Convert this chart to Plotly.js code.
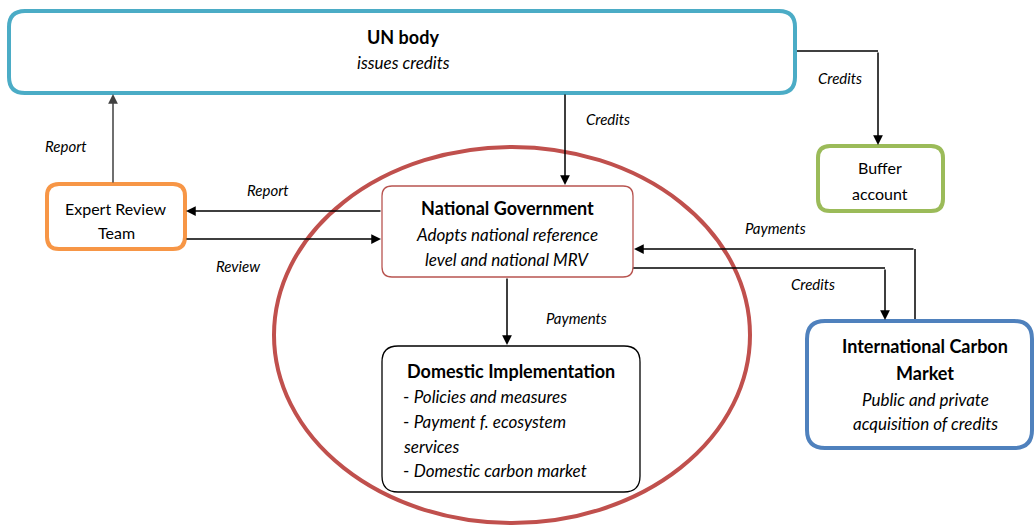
<!DOCTYPE html>
<html><head><meta charset="utf-8">
<script src="https://cdn.plot.ly/plotly-3.0.1.min.js"></script>
<style>html,body{margin:0;padding:0;background:#fff}#chart{width:1034px;height:525px}</style>
</head><body><div id="chart"></div>
<script>
// Node texts
const nodeIds = ["un", "buffer", "expert", "natgov", "domestic", "intl"];
const nodeTitles = ["UN body", "", "", "National Government", "Domestic Implementation", "International Carbon|Market"];
const nodePlain = ["", "Buffer|account", "Expert Review|Team", "", "", ""];
const nodeSubtitles = ["issues credits", "", "", "Adopts national reference|level and national MRV", "", "Public and private|acquisition of credits"];
const domesticItems = ["- Policies and measures", "- Payment f. ecosystem", "services", "- Domestic carbon market"];
// Flow labels
const flowLabels = ["Report", "Report", "Review", "Credits", "Credits", "Payments", "Payments", "Credits"];

// ---- geometry / style (not data) ----
const boxes = {
  un:       {x0:9,   y0:11,  x1:795,  y1:93,  r:16, color:"#4BACC6", w:4},
  buffer:   {x0:818, y0:146, x1:943,  y1:211, r:12, color:"#9BBB59", w:4},
  expert:   {x0:47,  y0:184, x1:185,  y1:249, r:12, color:"#F79646", w:4},
  natgov:   {x0:382, y0:186, x1:633,  y1:277, r:10, color:"#B85450", w:1.3},
  domestic: {x0:382, y0:346, x1:640,  y1:492, r:16, color:"#000000", w:1.3},
  intl:     {x0:807, y0:321, x1:1032, y1:448, r:18, color:"#4F81BD", w:4}
};
const textPos = {
  un:       {cx:403, ys:[37], ysub:[62]},
  buffer:   {cx:880, yp:[167,193]},
  expert:   {cx:116, yp:[208,232]},
  natgov:   {cx:507, ys:[208], ysub:[234,259]},
  domestic: {cx:511, ys:[371]},
  intl:     {cx:925, ys:[346,373], ysub:[399,423]}
};
const domesticPos = {x:401, ys:[396,421,446,470]};
const labelPos = [[66,146],[268,190],[238,266],[608,119],[840,78],[576,318],[775,228],[813,284]];

function rr(b){
  const {x0,y0,x1,y1,r}=b;
  return `M ${x0+r},${y0} L ${x1-r},${y0} Q ${x1},${y0} ${x1},${y0+r} L ${x1},${y1-r} Q ${x1},${y1} ${x1-r},${y1} L ${x0+r},${y1} Q ${x0},${y1} ${x0},${y1-r} L ${x0},${y0+r} Q ${x0},${y0} ${x0+r},${y0} Z`;
}

const FONT = "Lato, 'Open Sans', sans-serif";
const shapes = [];
const annotations = [];

// Ellipse
shapes.push({type:"circle", xref:"x", yref:"y", x0:274, x1:750, y0:147, y1:523, line:{color:"#C0504D", width:4}, layer:"below"});

// Connector line segments (tails of bent arrows)
const seg = (x0,y0,x1,y1,c,w)=>shapes.push({type:"line", xref:"x", yref:"y", x0, y0, x1, y1, line:{color:c||"#000", width:w||1.5}});
seg(795,51,878,51);
seg(915,321,915,249);
seg(633,268,885,268);

// Boxes
nodeIds.forEach(id=>{
  const b=boxes[id];
  shapes.push({type:"path", xref:"x", yref:"y", path:rr(b), fillcolor:"rgba(255,255,255,1)", line:{color:b.color, width:b.w}});
});

// Arrows
const arrow=(tx,ty,hx,hy,c)=>annotations.push({x:hx, y:hy, ax:tx, ay:ty, xref:"x", yref:"y", axref:"x", ayref:"y", text:"", showarrow:true, arrowhead:2, arrowsize:1.3, arrowwidth:1.5, arrowcolor:c||"#000", standoff:0, startstandoff:0});
arrow(113,184,113,94,"#404040");
arrow(382,211,186,211);
arrow(185,239,381,239);
arrow(565,93,565,185);
arrow(878,51,878,145);
arrow(507,277,507,345);
arrow(915,249,634,249);
arrow(885,268,885,320);

// Node texts
const txt=(x,y,t,size,xanchor)=>annotations.push({x, y, xref:"x", yref:"y", text:t, showarrow:false, xanchor:xanchor||"center", yanchor:"middle", font:{family:FONT, size:size, color:"#000"}});
nodeIds.forEach((id,i)=>{
  const p=textPos[id];
  if(nodeTitles[i]) nodeTitles[i].split("|").forEach((s,k)=>txt(p.cx,p.ys[k],"<b>"+s+"</b>",18));
  if(nodePlain[i]) nodePlain[i].split("|").forEach((s,k)=>txt(p.cx,p.yp[k],s,16));
  if(nodeSubtitles[i]) nodeSubtitles[i].split("|").forEach((s,k)=>txt(p.cx,p.ysub[k],"<i>"+s+"</i>",17));
});
domesticItems.forEach((s,k)=>{
  const t = s.startsWith("- ") ? "- <i>"+s.slice(2)+"</i>" : "<i>"+s+"</i>";
  txt(domesticPos.x, domesticPos.ys[k], t, 17, "left");
});
flowLabels.forEach((s,k)=>txt(labelPos[k][0], labelPos[k][1], "<i>"+s+"</i>", 15));

Plotly.newPlot("chart", [], {
  width:1034, height:525,
  margin:{l:0,r:0,t:0,b:0},
  paper_bgcolor:"#fff", plot_bgcolor:"#fff",
  xaxis:{range:[0,1034], visible:false, fixedrange:true},
  yaxis:{range:[525,0], visible:false, fixedrange:true},
  shapes, annotations, showlegend:false
}, {staticPlot:true, displayModeBar:false});
</script></body></html>
